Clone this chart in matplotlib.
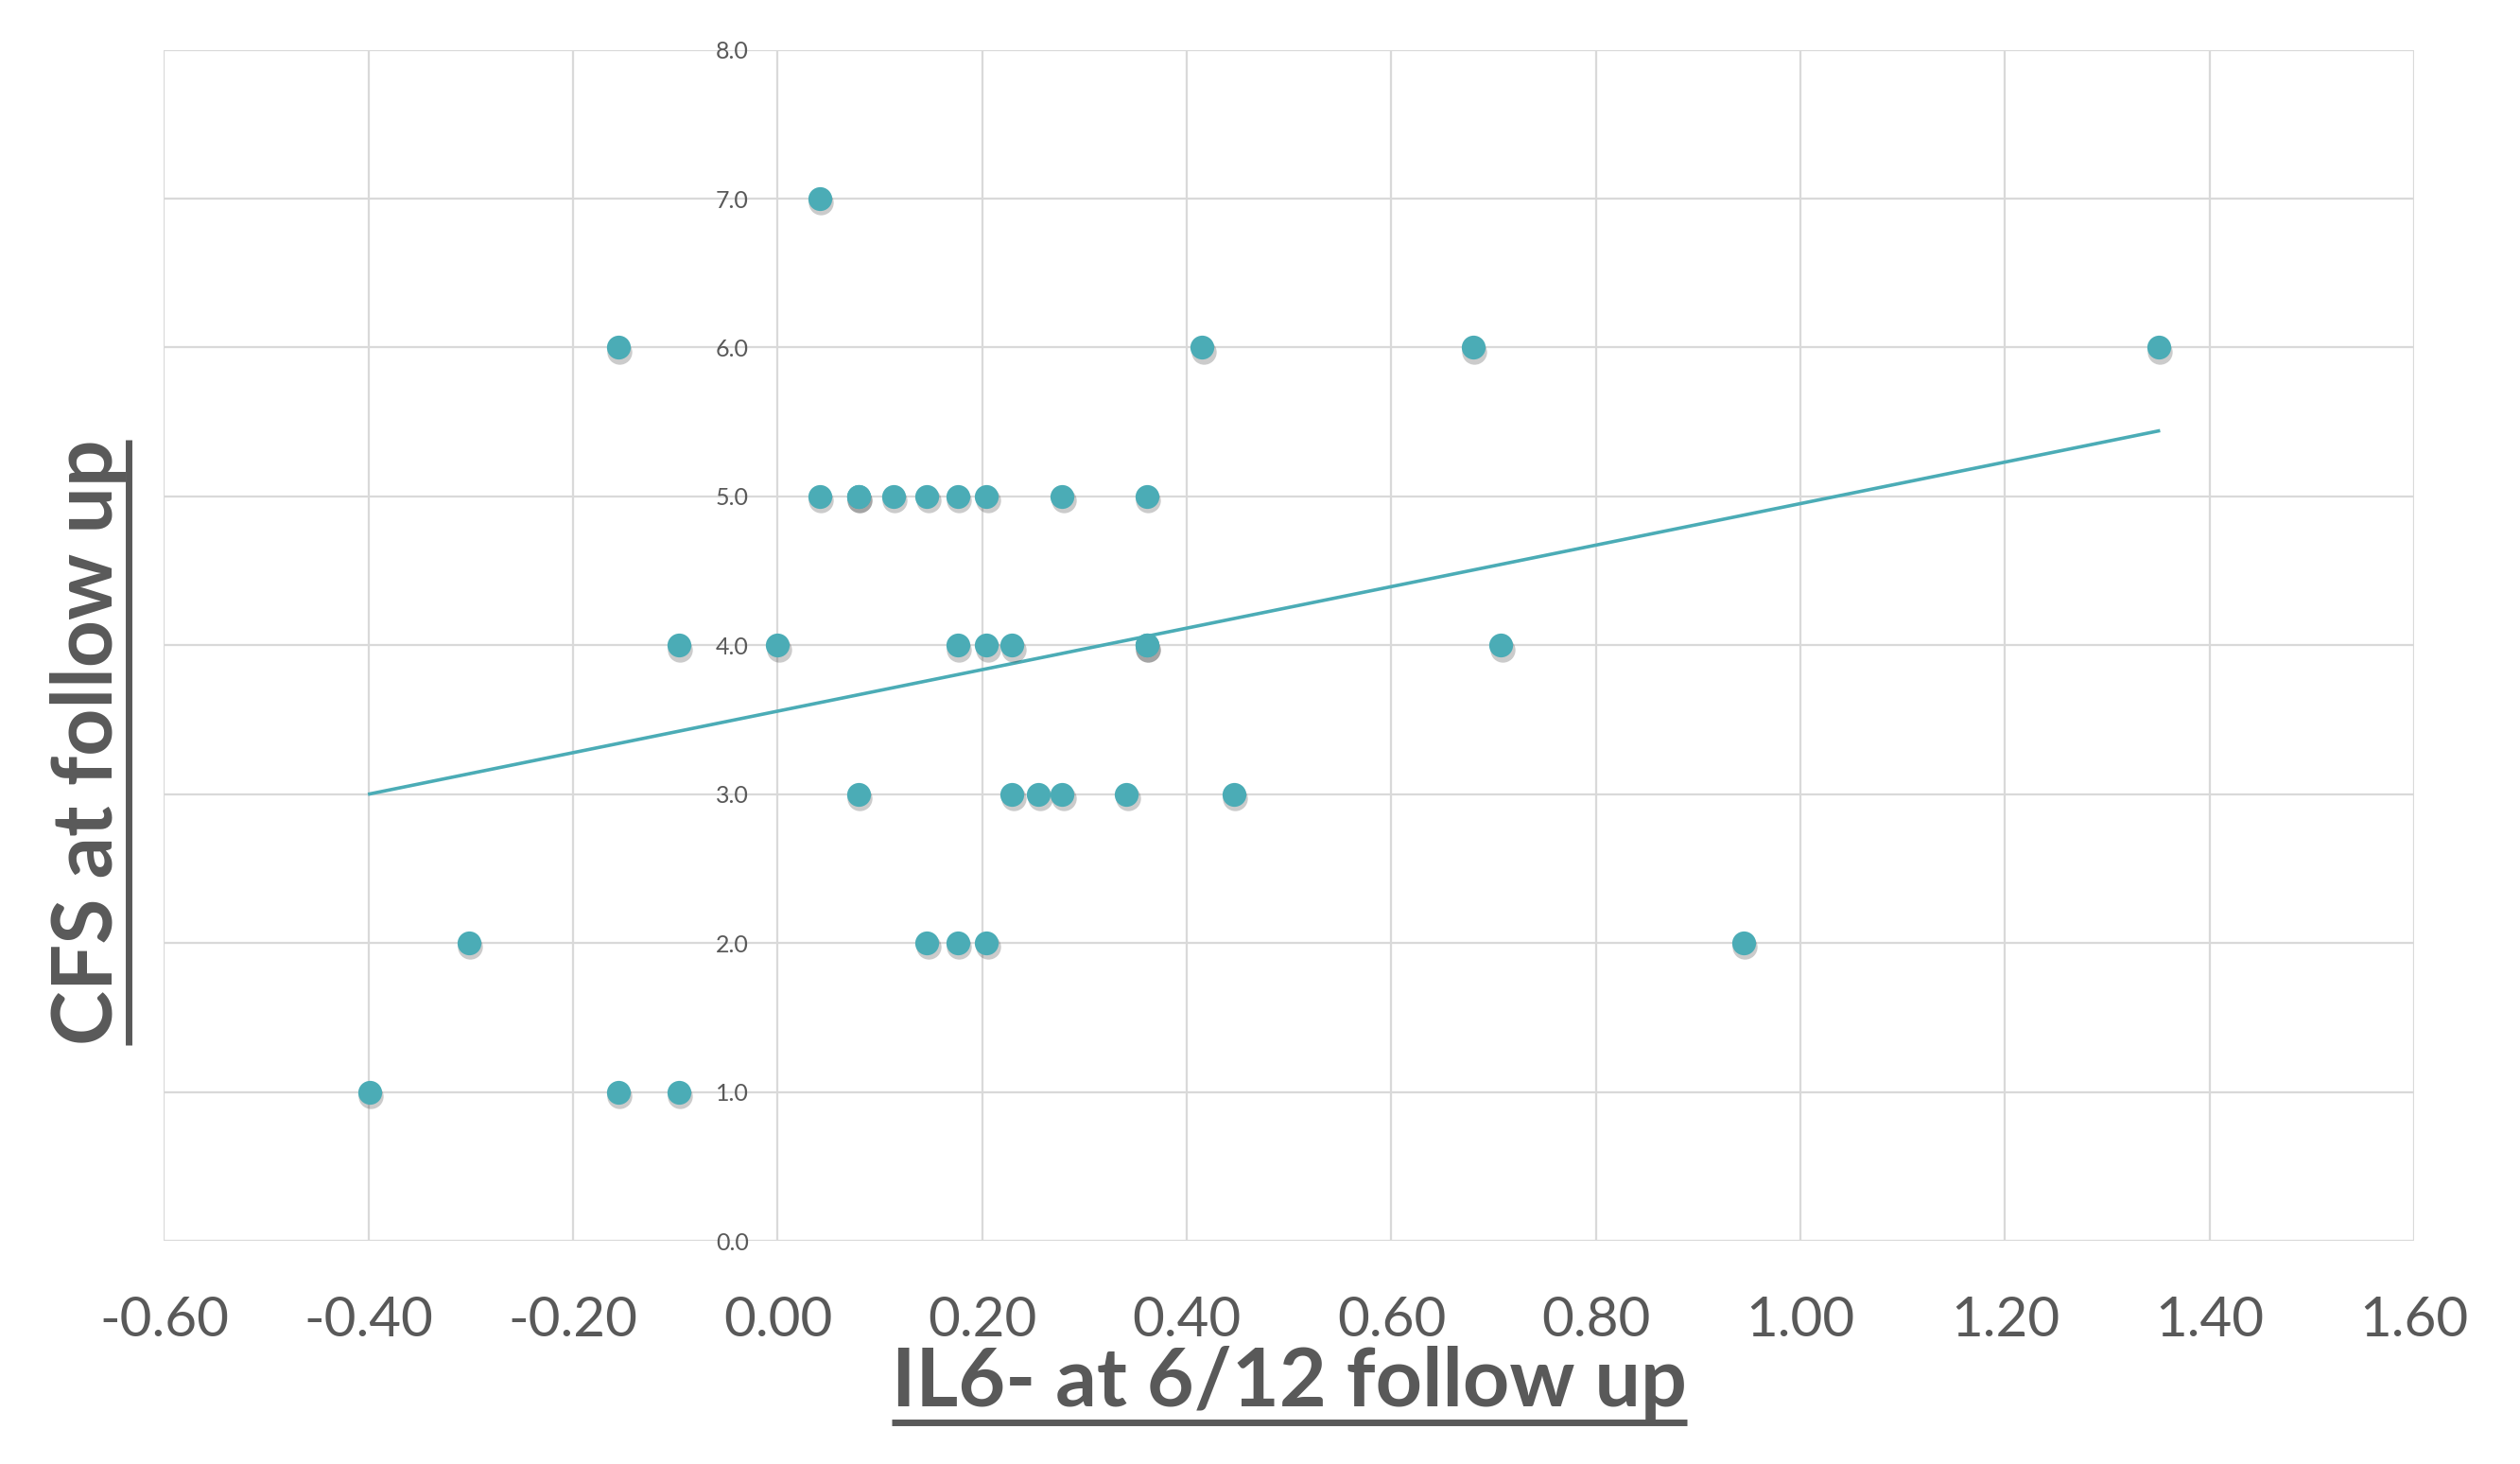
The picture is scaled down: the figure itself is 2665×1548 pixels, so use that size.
#!/usr/bin/python
# -*- coding: utf-8 -*-

import matplotlib

matplotlib.use("Agg")

import matplotlib.pyplot as plt
import matplotlib.transforms as mtransforms
from matplotlib.lines import Line2D
import numpy as np


# -->> Data <<-------------------------

il6 = [
    0.041, -0.156, 0.415, 0.680, 1.350,
    0.041, 0.079, 0.079, 0.113, 0.146, 0.176, 0.204, 0.278, 0.361,
    -0.097, 0.000, 0.176, 0.204, 0.229, 0.361, 0.361, 0.707,
    0.079, 0.229, 0.255, 0.278, 0.341, 0.446,
    -0.302, 0.146, 0.176, 0.204, 0.944,
    -0.399, -0.156, -0.097,
]
cfs = [
    7, 6, 6, 6, 6,
    5, 5, 5, 5, 5, 5, 5, 5, 5,
    4, 4, 4, 4, 4, 4, 4, 4,
    3, 3, 3, 3, 3, 3,
    2, 2, 2, 2, 2,
    1, 1, 1,
]

# linear trendline
trend_slope = 1.394
trend_intercept = 3.558

x_ticks = [-0.6, -0.4, -0.2, 0.0, 0.2, 0.4, 0.6, 0.8, 1.0, 1.2, 1.4, 1.6]
y_ticks = [0.0, 1.0, 2.0, 3.0, 4.0, 5.0, 6.0, 7.0, 8.0]

x_title = "IL6- at 6/12 follow up"
y_title = "CFS at follow up"


# -->> Style <<------------------------

TEAL = "#4BACB6"
TEXT = "#595959"
GRID = "#D9D9D9"
FONT = "Lato"

W, H, DPI = 2665, 1548, 100


def underline(fig, txt, renderer, vertical=False, offset=14, lw=5):
    """Draw an underline under a text artist (pixel coords)."""
    bb = txt.get_window_extent(renderer)
    if vertical:
        x0 = txt.get_transform().transform(txt.get_position())[0] + offset
        line = Line2D([x0, x0], [bb.y0, bb.y1], color=TEXT, lw=lw,
                      transform=None, solid_capstyle="butt")
    else:
        y0 = txt.get_transform().transform(txt.get_position())[1] - offset
        line = Line2D([bb.x0, bb.x1], [y0, y0], color=TEXT, lw=lw,
                      transform=None, solid_capstyle="butt")
    fig.add_artist(line)


plt.rcParams["font.family"] = [FONT, "DejaVu Sans"]

fig = plt.figure(figsize=(W / DPI, H / DPI), dpi=DPI)
ax = fig.add_axes([0.0651, 0.1524, 0.958 - 0.0651, 0.966 - 0.1524])

ax.set_xlim(x_ticks[0], x_ticks[-1])
ax.set_ylim(y_ticks[0], y_ticks[-1])
ax.set_xticks(x_ticks)
ax.set_yticks(y_ticks)
ax.set_xticklabels([f"{v:.2f}" for v in x_ticks])
ax.set_yticklabels([f"{v:.1f}" for v in y_ticks])

ax.grid(True, color=GRID, lw=1.6)
ax.set_axisbelow(True)
for s in ["top", "right", "bottom"]:
    ax.spines[s].set_visible(False)
ax.spines["left"].set_position(("data", 0))
ax.spines["left"].set_visible(False)

ax.tick_params(axis="x", length=0, pad=42, labelsize=42, labelcolor=TEXT)
ax.tick_params(axis="y", length=0, pad=22, labelsize=18, labelcolor=TEXT)

# trendline
xs = np.array([min(il6), max(il6)])
ax.plot(xs, trend_slope * xs + trend_intercept, color=TEAL, lw=2.6, zorder=2)

# marker shadows then markers
shadow = mtransforms.offset_copy(ax.transData, fig=fig, x=1.0, y=-3.0,
                                 units="points")
ax.scatter(il6, cfs, s=360, color="#303030", alpha=0.25, lw=0,
           transform=shadow, zorder=3)
ax.scatter(il6, cfs, s=330, color=TEAL, lw=0, zorder=4)

# axis titles
xt = fig.text(0.5115, 0.0394, x_title, ha="center", va="baseline",
              fontsize=62, fontweight="bold", color=TEXT)
yt = fig.text(0.0447, 0.493, y_title, ha="center", va="baseline",
              rotation=90, rotation_mode="anchor",
              fontsize=63, fontweight="bold", color=TEXT)

fig.canvas.draw()
renderer = fig.canvas.get_renderer()
underline(fig, xt, renderer, offset=17)
underline(fig, yt, renderer, vertical=True, offset=17)

fig.savefig("out.png", dpi=DPI)
